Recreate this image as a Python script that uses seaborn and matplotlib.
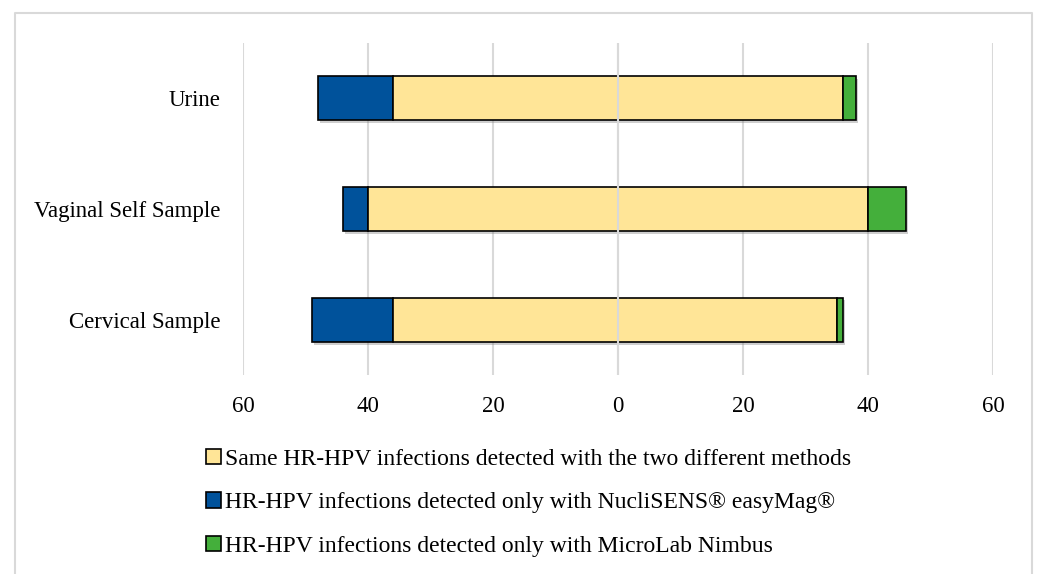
import matplotlib
matplotlib.use("Agg")
import matplotlib.pyplot as plt
import matplotlib.patheffects as pe
from matplotlib.patches import Patch
from matplotlib.lines import Line2D
from matplotlib.ticker import FuncFormatter
import seaborn as sns
import pandas as pd

# Data (counts of HR-HPV infections)
categories = ["Urine", "Vaginal Self Sample", "Cervical Sample"]
same_neg = [36, 40, 36]      # left half of the "same" bar
same_pos = [36, 40, 35]      # right half of the "same" bar
easymag_only = [12, 4, 13]   # NucliSENS easyMag only (drawn to the left)
nimbus_only = [2, 6, 1]      # MicroLab Nimbus only (drawn to the right)

labels = [
    "Same HR-HPV infections detected with the two different methods",
    "HR-HPV infections detected only with NucliSENS\u00ae easyMag\u00ae",
    "HR-HPV infections detected only with MicroLab Nimbus",
]
col_same = "#FFE597"
col_easymag = "#00529B"
col_nimbus = "#44AF3B"
x_ticks = [-60, -40, -20, 0, 20, 40, 60]

sns.set_theme(style="white")
plt.rcParams["font.family"] = ["Liberation Serif", "DejaVu Serif"]
plt.rcParams["text.color"] = "black"
FS = 16.5
FS_LEG = 17

df = pd.DataFrame({
    "sample": categories,
    "same": [a + b for a, b in zip(same_neg, same_pos)],
    "same_left": [-a for a in same_neg],
    "easymag": easymag_only,
    "easymag_left": [-(a + b) for a, b in zip(same_neg, easymag_only)],
    "nimbus": nimbus_only,
    "nimbus_left": same_pos,
})

fig = plt.figure(figsize=(10.37, 5.74), dpi=100)
ax = fig.add_axes([243 / 1037, 1 - 375 / 574, 750 / 1037, 332 / 574])

shadow = [pe.SimplePatchShadow(offset=(1.5, -2), shadow_rgbFace="0.45", alpha=0.35), pe.Normal()]
bar_kw = dict(orient="h", width=0.4, edgecolor="black", linewidth=1.2, ax=ax,
              order=categories, saturation=1)

sns.barplot(data=df, x="easymag", y="sample", color=col_easymag,
            left=df["easymag_left"].values, **bar_kw)
sns.barplot(data=df, x="same", y="sample", color=col_same,
            left=df["same_left"].values, **bar_kw)
sns.barplot(data=df, x="nimbus", y="sample", color=col_nimbus,
            left=df["nimbus_left"].values, **bar_kw)
for p in ax.patches:
    p.set_path_effects(shadow)
    p.set_zorder(2)

ax.set_xlim(-60, 60)
ax.set_ylim(2.5, -0.5)
ax.set_xticks(x_ticks)
ax.xaxis.set_major_formatter(FuncFormatter(lambda v, _: f"{abs(v):.0f}"))
ax.grid(axis="x", color="#D9D9D9", linewidth=1.5, zorder=0)
ax.grid(axis="y", visible=False)
ax.set_axisbelow(True)
ax.axvline(0, color="#D9D9D9", linewidth=1.5, zorder=5)
for s in ax.spines.values():
    s.set_visible(False)
ax.tick_params(axis="x", length=0, pad=15, labelsize=FS, colors="black")
ax.tick_params(axis="y", length=0, pad=16.5, labelsize=FS, colors="black")
ax.set_xlabel("")
ax.set_ylabel("")

handles = [Patch(facecolor=c, edgecolor="black", linewidth=1.2)
           for c in (col_same, col_easymag, col_nimbus)]
fig.legend(handles, labels, loc="upper left", bbox_to_anchor=(206 / 1037, 1 - 449 / 574),
           frameon=False, fontsize=FS_LEG, handlelength=0.62, handleheight=0.62,
           handletextpad=0.2, labelspacing=0.95, borderpad=0, borderaxespad=0,
           labelcolor="black")

# light grey chart-area border (open at the bottom)
fx0, fx1, fy1 = 15 / 1037, 1032 / 1037, 1 - 13 / 574
fig.add_artist(Line2D([fx0, fx0, fx1, fx1], [0, fy1, fy1, 0], transform=fig.transFigure,
                      color="#D9D9D9", linewidth=1.5))

fig.savefig("out.png", dpi=100)
